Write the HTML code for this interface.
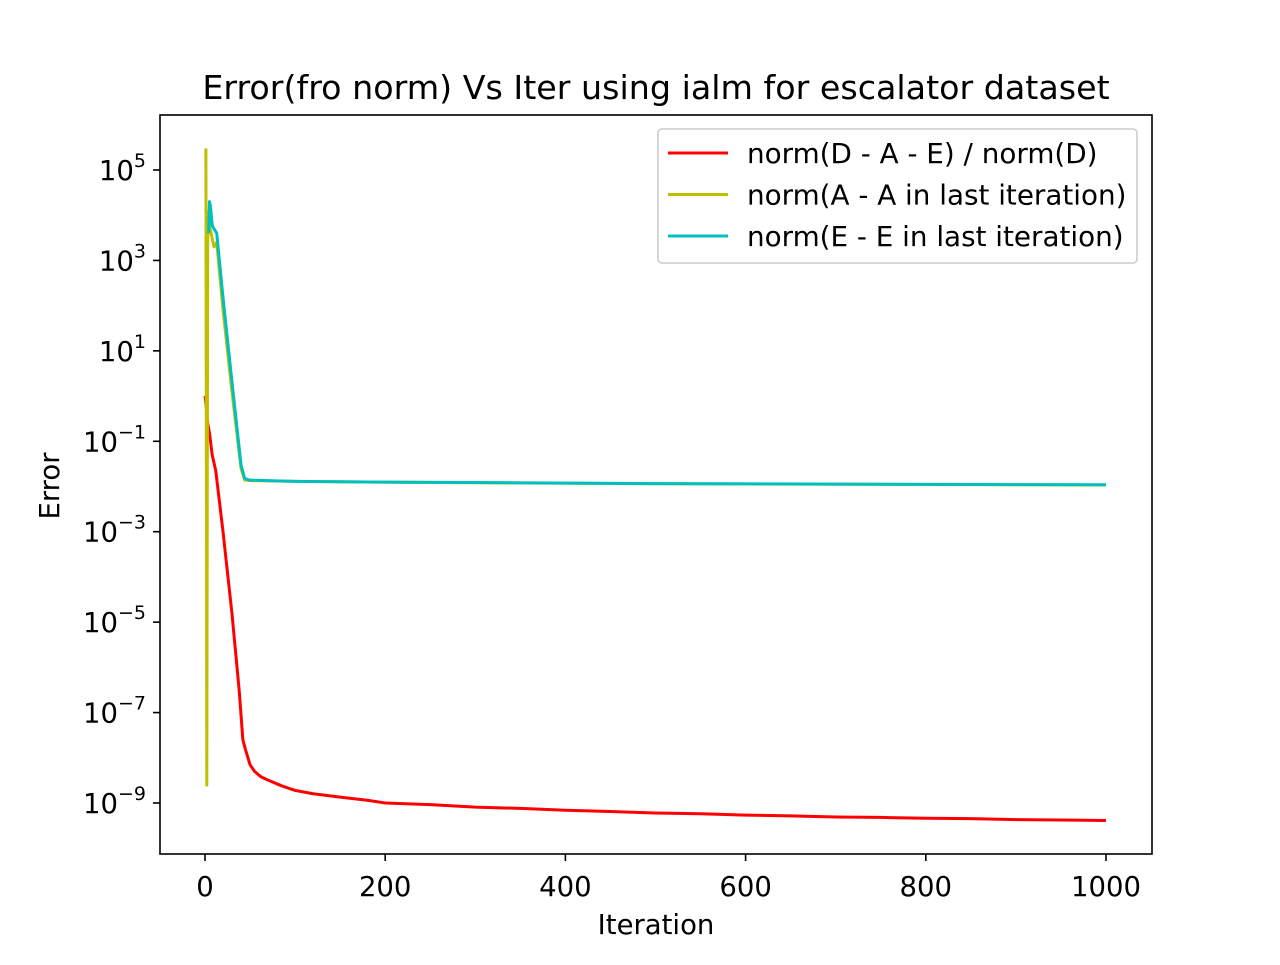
<!DOCTYPE html>
<html><head><meta charset="utf-8"><style>
body{margin:0;background:#fff;}
svg text{font-family:"DejaVu Sans","Liberation Sans",sans-serif;fill:#000;}
</style></head><body>
<svg id="chart" width="1280" height="960" xmlns="http://www.w3.org/2000/svg">
<rect width="1280" height="960" fill="#fff"/>
<g id="plot"></g>
</svg>
<script>
const redIter = [0,1,3,5,8,12,20,30,38,42,45,50,55,62,70,85,100,120,150,180,200,250,300,350,400,450,500,550,600,650,700,750,800,850,900,950,1000];
const redVal = [1.0,0.7,0.25,0.15,0.05,0.022,1e-3,1.5e-5,3e-7,2.5e-8,1.5e-8,7e-9,5e-9,3.8e-9,3.2e-9,2.4e-9,1.9e-9,1.6e-9,1.35e-9,1.15e-9,1.0e-9,9.2e-10,8.1e-10,7.6e-10,6.9e-10,6.5e-10,6.0e-10,5.8e-10,5.4e-10,5.2e-10,4.9e-10,4.8e-10,4.6e-10,4.5e-10,4.3e-10,4.2e-10,4.1e-10];
const yelIter = [1,2,3,4,5,8,10,13,20,30,40,44,50,100,200,500,1000];
const yelVal = [3e5,2.5e-9,3e3,1.2e4,6e3,3e3,2e3,2.5e3,80,1.2,0.025,0.014,0.0135,0.013,0.0125,0.0115,0.0108];
const cyaIter = [4,5,6,8,10,13,20,30,40,44,50,100,200,500,1000];
const cyaVal = [4e3,2e4,1.6e4,6e3,5e3,4e3,150,2,0.03,0.015,0.0138,0.013,0.0125,0.0116,0.0109];
const xTicks = [0,200,400,600,800,1000];
const yTicks = [5,3,1,-1,-3,-5,-7,-9];

const L=160,R=1152,T=115,B=854;
const X=v=>205+(v-0)*(1106-205)/1000;
const Y=v=>170-(Math.log10(v)-5)*(803-170)/14;
const NS="http://www.w3.org/2000/svg";
const g=document.getElementById('plot');
function mk(t,a){const e=document.createElementNS(NS,t);for(const k in a)e.setAttribute(k,a[k]);g.appendChild(e);return e;}
function series(xs,vs,color,name){
  const p=mk('polyline',{points:xs.map((x,i)=>X(x)+','+Y(vs[i])).join(' '),fill:'none',stroke:color,'stroke-width':3,'stroke-linejoin':'round'});
  
  
}
series(redIter,redVal,'#ff0000','series-residual');
series(yelIter,yelVal,'#bfbf00','series-a-change');
series(cyaIter,cyaVal,'#00bfbf','series-e-change');
const fr=mk('rect',{x:L,y:T,width:R-L,height:B-T,fill:'none',stroke:'#000','stroke-width':1.6});


xTicks.forEach(v=>{
  const l=mk('line',{x1:X(v),x2:X(v),y1:B,y2:B+7,stroke:'#000','stroke-width':1.6});
  
  
  const t=mk('text',{x:X(v),y:B+42,'text-anchor':'middle','font-size':27.5});
  t.textContent=v;
  
  
});
yTicks.forEach(e=>{
  const y=Y(Math.pow(10,e));
  const l=mk('line',{x1:L-7,x2:L,y1:y,y2:y,stroke:'#000','stroke-width':1.6});
  
  
  const t=mk('text',{x:L-14,y:y+10,'text-anchor':'end','font-size':27.5});
  t.innerHTML='10<tspan dy="-13" font-size="19">'+(e<0?'\u2212'+(-e):e)+'</tspan>';
  
  
});
function txt(x,y,s,size,name,extra){const t=mk('text',Object.assign({x:x,y:y,'font-size':size},extra||{}));t.textContent=s;return t;}
txt(656,99,'Error(fro norm) Vs Iter using ialm for escalator dataset',33.3,'chart-title',{'text-anchor':'middle'});
txt(656,934,'Iteration',27.5,'x-axis-title',{'text-anchor':'middle'});
txt(59,486,'Error',27.5,'y-axis-title',{'text-anchor':'middle',transform:'rotate(-90 59 486)'});
const lg=mk('rect',{x:658,y:129,width:479,height:134,rx:4,fill:'#fff',stroke:'#ccc','stroke-width':1.6});


[['#ff0000','norm(D - A - E) / norm(D)'],['#bfbf00','norm(A - A in last iteration)'],['#00bfbf','norm(E - E in last iteration)']].forEach((d,i)=>{
  const y=153+i*41.5;
  const l=mk('line',{x1:668,x2:728,y1:y,y2:y,stroke:d[0],'stroke-width':3});
  
  
  txt(747,y+10,d[1],27.8,'legend-entry');
});
</script>
</body></html>
